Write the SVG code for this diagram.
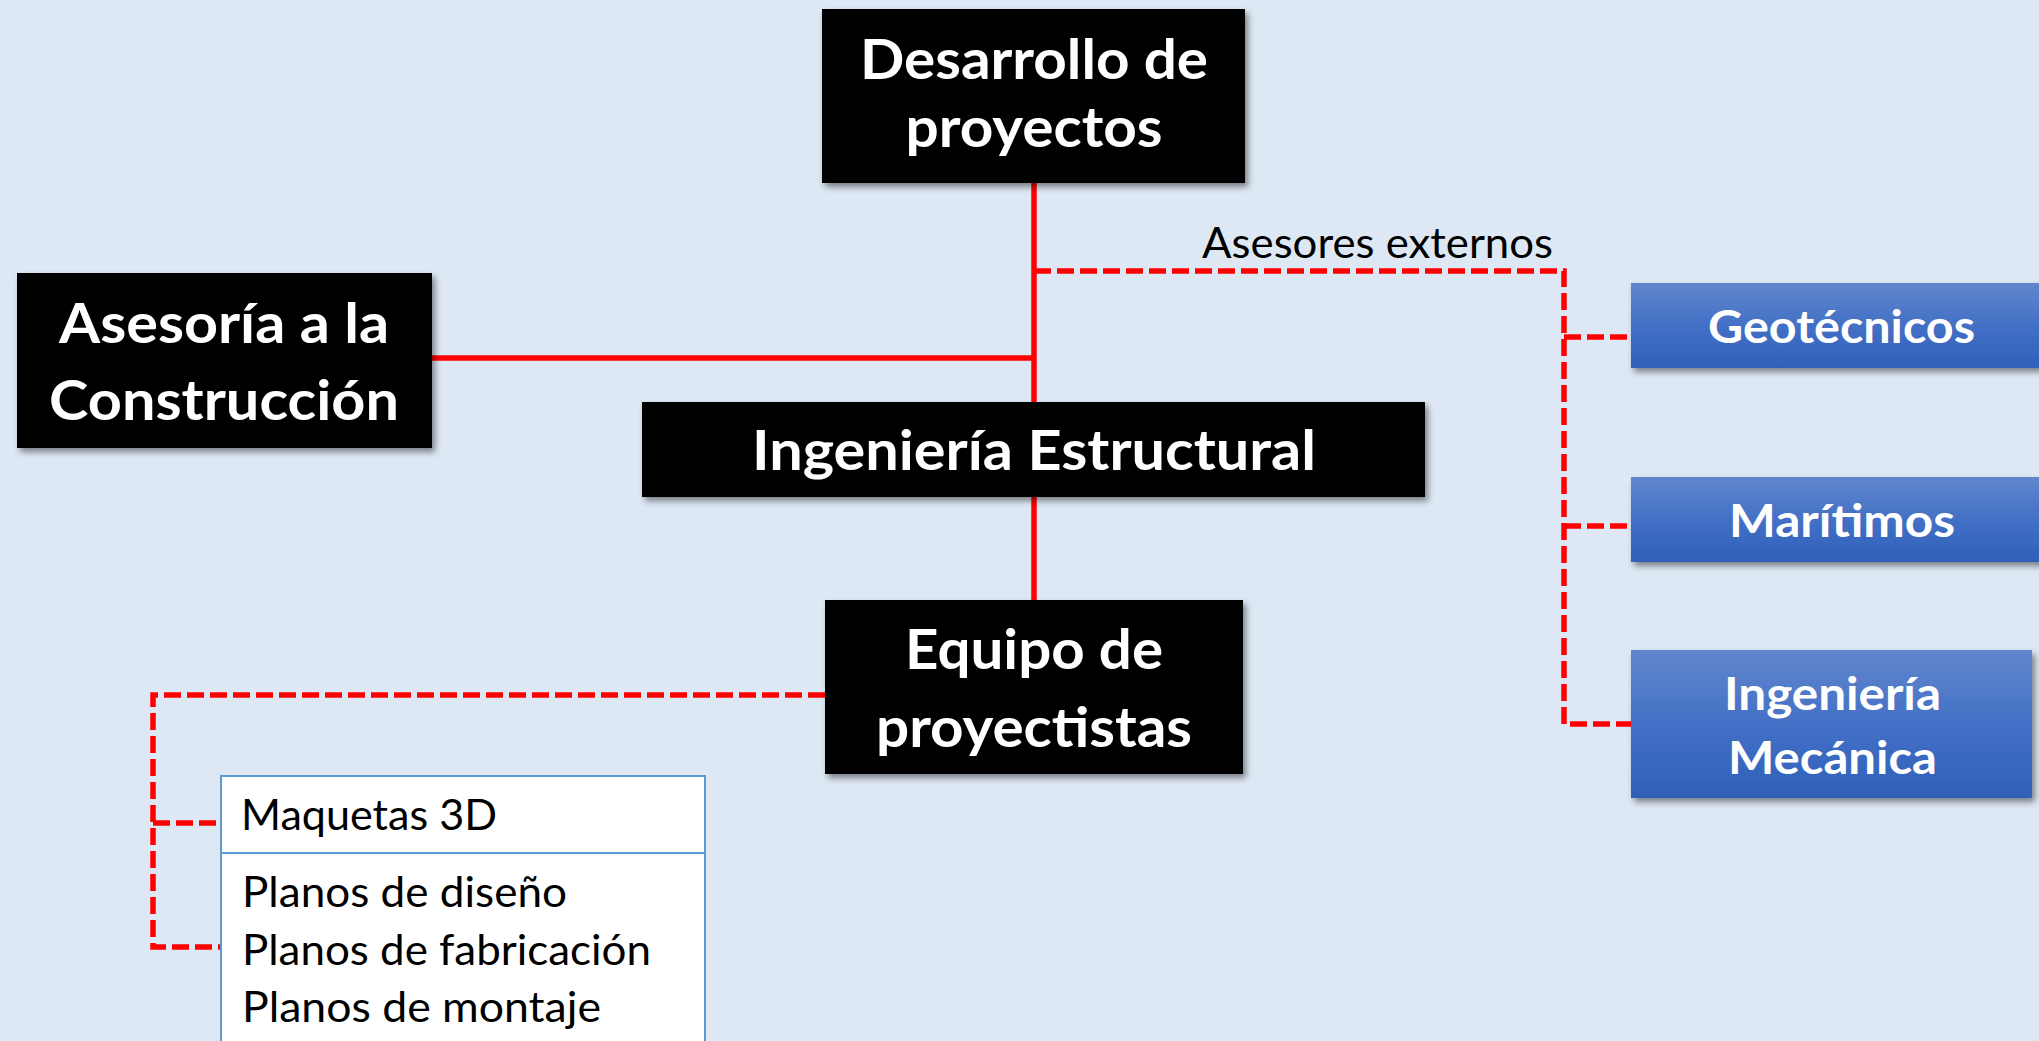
<svg xmlns="http://www.w3.org/2000/svg" width="2039" height="1041" viewBox="0 0 2039 1041">
<defs>
<style>
.bx{fill:#000;filter:url(#sh)}
.bl{fill:url(#bg);filter:url(#sh)}
.tb{font-family:Lato,"Open Sans","Liberation Sans",sans-serif;font-weight:700;fill:#fff;text-anchor:middle}
.big{font-size:56px}
.mid{font-size:46px}
.tr{font-family:Lato,"Open Sans","Liberation Sans",sans-serif;font-weight:400;fill:#000;font-size:42px}
.sol{stroke:#ff0000;stroke-width:5.5;fill:none}
.dsh{stroke:#ff0000;stroke-width:5.5;fill:none;stroke-dasharray:17 6}
</style>
<linearGradient id="bg" x1="0" y1="0" x2="0" y2="1">
<stop offset="0" stop-color="#6286cd"/>
<stop offset="0.5" stop-color="#4370c6"/>
<stop offset="1" stop-color="#2f60b9"/>
</linearGradient>
<filter id="sh" x="-10%" y="-10%" width="130%" height="140%">
<feDropShadow dx="3" dy="4" stdDeviation="3" flood-color="#000" flood-opacity="0.45"/>
</filter>
</defs>
<rect width="2039" height="1041" fill="#dde8f4"/>
<g id="connectors">
<path class="sol" d="M1034 183 V402"/>
<path class="sol" d="M432 358 H1034"/>
<path class="sol" d="M1034 497 V600"/>
<path class="dsh" d="M1034 271 H1564 V724 H1631"/>
<path class="dsh" d="M1564 337 H1631"/>
<path class="dsh" d="M1564 526 H1631"/>
<path class="dsh" d="M825 695 H153 V947 H221"/>
<path class="dsh" d="M153 823 H221"/>
</g>
<g id="desarrollo">
<rect class="bx" x="822" y="9" width="423" height="174"/>
<text class="tb big" x="1034" y="79" textLength="348" lengthAdjust="spacingAndGlyphs">Desarrollo de</text>
<text class="tb big" x="1034" y="147" textLength="257" lengthAdjust="spacingAndGlyphs">proyectos</text>
</g>
<g id="asesoria">
<rect class="bx" x="17" y="273" width="415" height="175"/>
<text class="tb big" x="224" y="343" textLength="330" lengthAdjust="spacingAndGlyphs">Asesoría a la</text>
<text class="tb big" x="224" y="420" textLength="350" lengthAdjust="spacingAndGlyphs">Construcción</text>
</g>
<g id="ingenieria">
<rect class="bx" x="642" y="402" width="783" height="95"/>
<text class="tb big" x="1034" y="470" textLength="564" lengthAdjust="spacingAndGlyphs">Ingeniería Estructural</text>
</g>
<g id="equipo">
<rect class="bx" x="825" y="600" width="418" height="174"/>
<text class="tb big" x="1034" y="669" textLength="258" lengthAdjust="spacingAndGlyphs">Equipo de</text>
<text class="tb big" x="1034" y="747" textLength="316" lengthAdjust="spacingAndGlyphs">proyectistas</text>
</g>
<g id="asesores-label">
<text class="tr" x="1202" y="258" textLength="351" lengthAdjust="spacingAndGlyphs">Asesores externos</text>
</g>
<g id="geotecnicos">
<rect class="bl" x="1631" y="283" width="424" height="85"/>
<text class="tb mid" x="1841.5" y="343" textLength="267" lengthAdjust="spacingAndGlyphs">Geotécnicos</text>
</g>
<g id="maritimos">
<rect class="bl" x="1631" y="477" width="424" height="85"/>
<text class="tb mid" x="1842" y="537" textLength="226" lengthAdjust="spacingAndGlyphs">Marítimos</text>
</g>
<g id="mecanica">
<rect class="bl" x="1631" y="650" width="401" height="148"/>
<text class="tb mid" x="1832.5" y="710" textLength="217" lengthAdjust="spacingAndGlyphs">Ingeniería</text>
<text class="tb mid" x="1832.5" y="774" textLength="209" lengthAdjust="spacingAndGlyphs">Mecánica</text>
</g>
<g id="lista">
<rect x="221" y="776" width="484" height="280" fill="#fff" stroke="#5b9bd5" stroke-width="2"/>
<line x1="221" y1="853" x2="705" y2="853" stroke="#5b9bd5" stroke-width="2"/>
<text class="tr" x="241" y="830" textLength="256" lengthAdjust="spacingAndGlyphs">Maquetas 3D</text>
<text class="tr" x="242" y="907" textLength="325" lengthAdjust="spacingAndGlyphs">Planos de diseño</text>
<text class="tr" x="242" y="965" textLength="409" lengthAdjust="spacingAndGlyphs">Planos de fabricación</text>
<text class="tr" x="242" y="1022" textLength="359" lengthAdjust="spacingAndGlyphs">Planos de montaje</text>
</g>
</svg>
